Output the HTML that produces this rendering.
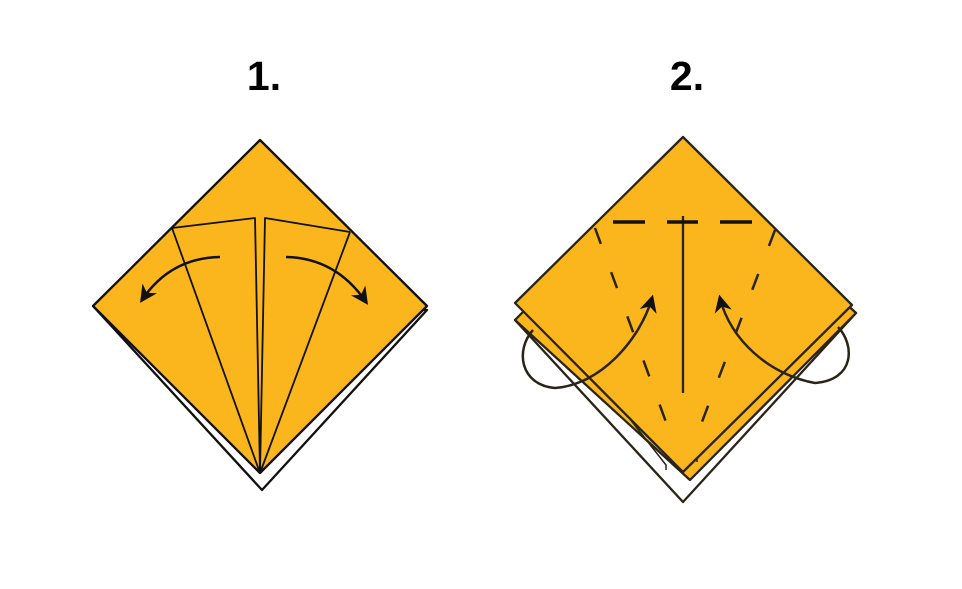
<!DOCTYPE html>
<html><head><meta charset="utf-8"><style>
html,body{margin:0;padding:0;background:#fff;}
svg{display:block}
text{font-family:"Liberation Sans",sans-serif;font-weight:bold;}
</style></head><body>
<svg width="962" height="589" viewBox="0 0 962 589">
<defs>
<marker id="ah" viewBox="0 0 10 10" refX="8" refY="5" markerWidth="7" markerHeight="7" orient="auto-start-reverse" markerUnits="strokeWidth"><path d="M0,0 L10,5 L0,10 L3,5 z" fill="#111"/></marker>
</defs>
<text x="264" y="90" font-size="41" text-anchor="middle">1.</text>
<text x="687" y="90" font-size="41" text-anchor="middle">2.</text>

<g stroke="#111" stroke-width="2.3" stroke-linejoin="round">
<polygon points="93,306 262,490 427,310" fill="#fff"/>
<polygon points="260,140 427,306 260,473 93,306" fill="#fbb51d"/>
<polyline points="172,228 255,218 260,473 172,228" fill="#fbb51d" stroke-width="1.8"/>
<polyline points="350,232 265,218 260,473 350,232" fill="#fbb51d" stroke-width="1.8"/>
<path d="M220,257 Q170,258 142,300" fill="none" stroke-width="2.5" marker-end="url(#ah)"/>
<path d="M286,257 Q336,258 366,302" fill="none" stroke-width="2.5" marker-end="url(#ah)"/>
</g>

<g stroke="#2a2418" stroke-width="2.3" stroke-linejoin="round">
<polygon points="515,320 683,502 856,313" fill="#fff"/>
<polygon points="683,150 856,313 690,480 515,320" fill="#fbb51d"/>
<polyline points="560,330 666,465 666,470" fill="none" stroke-width="1.5"/>
<polyline points="800,340 697,450 697,462" fill="none" stroke-width="1.5"/>
<polygon points="683,137 852,305 683,472 515,303" fill="#fbb51d"/>
<line x1="683" y1="216" x2="683" y2="393"/>
<g stroke="#111" stroke-width="3.5">
<line x1="613" y1="222" x2="645" y2="222"/><line x1="667" y1="222" x2="698" y2="222"/><line x1="720" y1="222" x2="752" y2="222"/>
</g>
<line x1="595" y1="228" x2="670" y2="433" stroke-dasharray="17,30" stroke-width="2.5"/>
<line x1="775" y1="230" x2="697" y2="435" stroke-dasharray="17,30" stroke-width="2.5"/>
<path d="M533,330 C515,350 520,385 555,388 C600,385 640,340 652,298" fill="none" stroke-width="2.5" marker-end="url(#ah)"/>
<path d="M838,327 C855,345 855,380 815,383 C770,375 730,340 720,298" fill="none" stroke-width="2.5" marker-end="url(#ah)"/>
</g>
</svg>
</body></html>
